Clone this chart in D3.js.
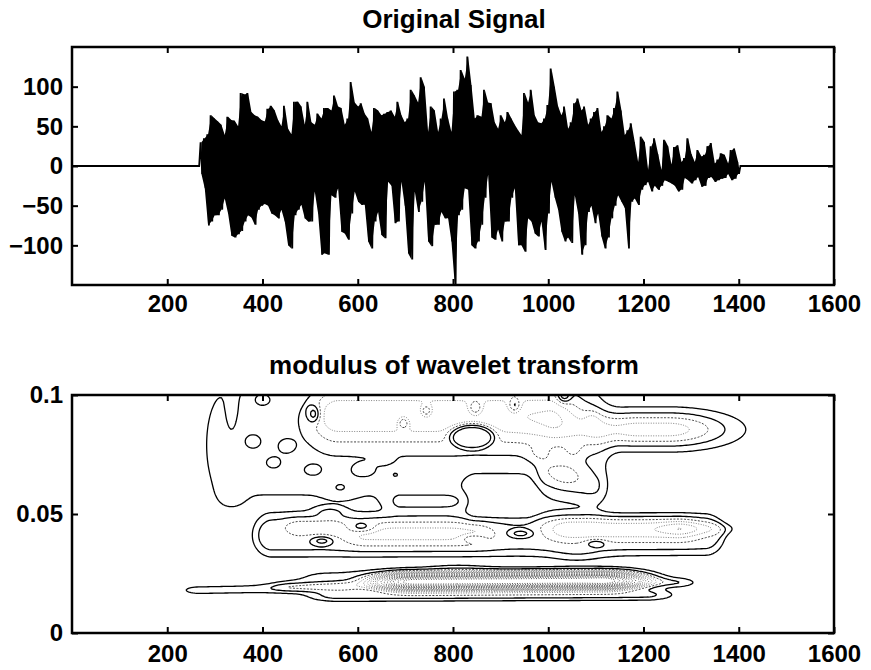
<!DOCTYPE html>
<html>
<head>
<meta charset="utf-8">
<script src="https://cdnjs.cloudflare.com/ajax/libs/d3/7.8.5/d3.min.js"></script>
<style>
  html, body { margin: 0; padding: 0; background: #fff; }
  svg { display: block; font-family: "Liberation Sans", Arial, Helvetica, sans-serif; font-weight: bold; }
</style>
</head>
<body>
<svg id="chart" width="871" height="670"></svg>
<script>
// ---------- signal: alternating upper / lower swing values, one pair per step ----------
const signalStart = 270;   // first sample of the burst
const signalStep = 7;      // samples between successive upper swings
const signalLength = 1600;

const peakHigh = [
  30, 35, 40, 64, 60, 56, 52, 39, 62, 58, 57, 50, 92, 90, 92, 68, 64, 62, 58, 56, 72, 76, 70, 58, 50, 76,
  47, 40, 81, 81, 75, 52, 81, 55, 52, 66, 60, 73, 73, 70, 89, 75, 73, 52, 60, 106, 80, 75, 79, 66, 60, 43, 73, 70,
  64, 66, 68, 70, 62, 81, 64, 55, 60, 96, 89, 80, 112, 100, 43, 75, 70, 43, 60, 85, 60, 43, 94, 96, 121, 110, 138, 102,
  60, 64, 62, 96, 80, 79, 55, 47, 64, 55, 68, 60, 52, 45, 39, 92, 80, 96, 64, 55, 54, 60, 77, 123, 100, 75, 64,
  75, 47, 55, 79, 85, 70, 75, 52, 60, 68, 73, 43, 50, 64, 60, 73, 94, 70, 39, 45, 54, 30, 5, 37, 30, -5, 25, 35,
  15, -5, 33, 25, 2, 24, 26, 5, 10, 35, 15, 5, 20, 12, 14, 25, 29, 3, 8, 16, 14, 3, 20, 22, 5
];
const peakLow = [
  -10, -28, -75, -70, -62, -62, -55, -41, -60, -88, -90, -86, -82, -70, -62, -65, -74, -55, -50, -48, -50, -60, -62, -66, -55, -70,
  -100, -104, -62, -55, -49, -66, -70, -70, -32, -60, -112, -110, -112, -37, -40, -28, -83, -85, -93, -60, -32, -45, -49, -49, -95, -104, -70, -58,
  -87, -91, -20, -25, -72, -70, -20, -50, -110, -118, -32, -58, -45, -20, -95, -101, -74, -74, -58, -66, -66, -95, -150, -62, -55, -28, -30, -100,
  -104, -95, -74, -40, -11, -90, -93, -80, -95, -70, -70, -40, -28, -100, -100, -108, -66, -70, -85, -89, -70, -106, -60, -20, -40, -55, -83,
  -95, -90, -97, -37, -60, -112, -100, -58, -50, -72, -60, -89, -104, -90, -66, -50, -37, -45, -53, -104, -45, -41, -49, -30, -24, -20, -32, -25,
  -30, -25, -18, -20, -22, -25, -32, -30, -15, -18, -22, -18, -14, -26, -25, -15, -14, -20, -18, -16, -15, -10, -18, -16, -10
];

// ---------- axes ----------
const timeTicks = [200, 400, 600, 800, 1000, 1200, 1400, 1600];
const signalTicks = [-100, -50, 0, 50, 100];
const scaleTicks = [0, 0.05, 0.1];
const contourLevels = [1, 2, 3, 4, 5, 6, 7, 8, 9, 10, 12, 14, 16, 18, 20, 23, 26];

// ---------- modulus surface: ridges [t0, t1, s0, s1, widthT, widthS, height, shape] ----------
const lowBand = [
  [270, 560, 0.0180, 0.0190, 35, 0.0016, 1.45],
  [460, 640, 0.0195, 0.0200, 30, 0.0014, 1.4],
  [540, 1150, 0.0230, 0.0235, 70, 0.0032, 1.25],
  [720, 1110, 0.0215, 0.0220, 50, 0.0021, 28],
  [560, 1200, 0.0155, 0.0160, 45, 0.0017, 2.3],
  [1130, 1270, 0.0215, 0.0212, 30, 0.0014, 1.7],
  [810, 810, 0.0270, 0.0270, 45, 0.0016, 0.7]
];
const midBand = [
  [420, 1330, 0.0405, 0.0412, 35, 0.0075, 2.3, 4],
  [480, 540, 0.0445, 0.0445, 25, 0.0030, 1.2],
  [620, 840, 0.0415, 0.0415, 35, 0.0035, 2.0],
  [1050, 1270, 0.0435, 0.0435, 40, 0.0035, 2.5],
  [1060, 1060, 0.0325, 0.0325, 40, 0.0025, 0.7],
  [1280, 1360, 0.0440, 0.0438, 30, 0.0020, 1.3]
];
const highBand = [
  [320, 1080, 0.0790, 0.0790, 40, 0.0225, 1.5, 3],
  [560, 1000, 0.0920, 0.0920, 45, 0.009, 3.5],
  [1190, 1250, 0.0855, 0.0855, 95, 0.0055, 4.5],
  [1000, 1100, 0.0670, 0.0610, 20, 0.005, 1.2],
  [690, 820, 0.0550, 0.0550, 22, 0.0033, 1.5],
  [335, 335, 0.0590, 0.0590, 18, 0.004, 0.9],
  [850, 950, 0.0560, 0.0560, 22, 0.007, -1.6],
  [335, 335, 0.0940, 0.0940, 9, 0.007, -1.0]
];
// isolated maxima / minima: [t, s, widthT, widthS, height, shape]
const spots = [
  [380, 0.0805, 15, 0.0026, 0.9], [450, 0.0785, 15, 0.0025, 0.9], [423, 0.0715, 14, 0.0022, 0.9],
  [505, 0.0683, 17, 0.0022, 0.9], [612, 0.0680, 22, 0.0025, 0.9], [563, 0.0607, 22, 0.0028, 0.9],
  [655, 0.0731, 14, 0.0018, 0.9], [400, 0.0985, 20, 0.0030, 1.2], [508, 0.0920, 9, 0.0025, -2.5],
  [696, 0.0883, 8, 0.0018, -2.5], [744, 0.0933, 8, 0.0018, -2.5], [980, 0.0753, 17, 0.0026, 0.9],
  [1054, 0.0765, 14, 0.0025, 0.9], [1093, 0.0895, 11, 0.0028, 0.9], [1038, 0.0670, 27, 0.0040, 0.9],
  [542, 0.0510, 22, 0.0016, 1.4], [840, 0.0830, 40, 0.0043, -4, 4], [847, 0.0945, 10, 0.0022, -2.5],
  [929, 0.0955, 9, 0.0022, -2.5], [1033, 0.0995, 10, 0.0020, -2.5], [679, 0.0664, 5, 0.0008, 0.8],
  [525, 0.0388, 16, 0.0013, -2.0], [609, 0.0443, 20, 0.0017, -2.0], [843, 0.0397, 18, 0.0012, -1.8],
  [942, 0.0418, 18, 0.0012, -1.8], [1100, 0.0377, 15, 0.0012, -1.6]
];

// ---------- layout ----------
const svg = d3.select("#chart");
const left = 72, right = 834;
const top1 = 47, bottom1 = 285;
const top2 = 395, bottom2 = 633;

const x = d3.scaleLinear().domain([0, 1600]).range([left, right]);
const ySig = d3.scaleLinear().domain([-150, 150]).range([bottom1, top1]);
const yScale = d3.scaleLinear().domain([0, 0.1]).range([bottom2, top2]);

const defs = svg.append("defs");
defs.append("clipPath").attr("id", "clipTop")
  .append("rect").attr("x", left).attr("y", top1).attr("width", right - left).attr("height", bottom1 - top1);
defs.append("clipPath").attr("id", "clipBottom")
  .append("rect").attr("x", left).attr("y", top2).attr("width", right - left).attr("height", bottom2 - top2);

// ---------- top panel: signal ----------
const swings = peakHigh.map((h, i) => ({ t: signalStart + i * signalStep, hi: h, lo: peakLow[i] }));
const pts = [[0, 0], [signalStart - 3, 0]];
swings.forEach(d => { pts.push([d.t, d.hi]); pts.push([d.t + signalStep / 2, d.lo]); });
const lastT = swings[swings.length - 1].t + signalStep / 2;
pts.push([lastT + 3, 0], [signalLength, 0]);

const sigLayer = svg.append("g").attr("clip-path", "url(#clipTop)");
// dense oscillation fills the band between successive swings
sigLayer.append("path")
  .attr("d", d3.area().x(d => x(d.t + signalStep / 4)).y0(d => ySig(d.lo)).y1(d => ySig(d.hi))(swings))
  .attr("fill", "#000");
sigLayer.append("path")
  .attr("d", d3.line().x(d => x(d[0])).y(d => ySig(d[1]))(pts))
  .attr("fill", "none")
  .attr("stroke", "#000")
  .attr("stroke-width", 1.8)
  .attr("stroke-linejoin", "miter")
  .attr("stroke-miterlimit", 2);

// ---------- bottom panel: contour of the modulus ----------
function ridge(r, t, s) {
  const [t0, t1, s0, s1, wt, ws, h, shape = 2] = r;
  const k = t1 > t0 ? Math.max(0, Math.min(1, (t - t0) / (t1 - t0))) : 0;
  const dt = t < t0 ? t0 - t : (t > t1 ? t - t1 : 0);
  const sc = s0 + (s1 - s0) * k;
  const q = (dt / wt) ** 2 + ((s - sc) / ws) ** 2;
  return h * Math.exp(-0.5 * Math.pow(q, shape / 2));
}
const ridges = lowBand.concat(midBand, highBand,
  spots.map(([t, s, wt, ws, h, shape]) => [t, t, s, s, wt, ws, h, shape || 2]));

const nx = 400, ny = 240;
const dt = 1600 / nx, ds = 0.1 / ny;
const grid = new Float64Array(nx * ny);
for (let j = 0; j < ny; j++) {
  const s = 0.1 - (j + 0.5) * ds;
  for (let i = 0; i < nx; i++) {
    const t = (i + 0.5) * dt;
    let v = 0;
    for (const r of ridges) v += ridge(r, t, s);
    grid[j * nx + i] = v;
  }
}
const contours = d3.contours().size([nx, ny]).thresholds(contourLevels)(grid);
const toPlot = d3.geoTransform({
  point(gx, gy) { this.stream.point(x(gx * dt), yScale(0.1 - gy * ds)); }
});
const geo = d3.geoPath(toPlot);

svg.append("g").attr("clip-path", "url(#clipBottom)")
  .selectAll("path").data(contours.slice().reverse()).join("path")
  .attr("d", geo)
  .attr("fill", "none")
  .attr("stroke", d => d.value <= 2 ? "#000" : (d.value === 3 ? "#444" : (d.value >= 12 ? "#555" : "#808080")))
  .attr("stroke-width", d => d.value <= 2 ? 1.3 : 1)
  .attr("stroke-dasharray", d => d.value <= 2 ? null : (d.value === 3 ? "2,1.5" : "1,1.5"));

// ---------- frames, ticks, labels ----------
function styleAxis(g) {
  g.select(".domain").remove();
  g.selectAll("line").attr("stroke", "#000").attr("stroke-width", 2);
  g.selectAll("text").attr("font-size", 24).attr("font-weight", "bold")
    .attr("font-family", "'Liberation Sans', Arial, sans-serif").attr("fill", "#000");
}
function panel(top, bottom, yS, yTicks, yFmt, title, titleBase, pad) {
  svg.append("g").attr("transform", `translate(0,${bottom})`)
    .call(d3.axisBottom(x).tickValues(timeTicks).tickSize(-6).tickPadding(pad).tickFormat(d3.format("d")))
    .call(styleAxis);
  svg.append("g").attr("transform", `translate(0,${top})`)
    .call(d3.axisTop(x).tickValues(timeTicks).tickSize(-6).tickFormat(""))
    .call(styleAxis);
  svg.append("g").attr("transform", `translate(${left},0)`)
    .call(d3.axisLeft(yS).tickValues(yTicks).tickSize(-6).tickPadding(9).tickFormat(yFmt))
    .call(styleAxis);
  svg.append("g").attr("transform", `translate(${right},0)`)
    .call(d3.axisRight(yS).tickValues(yTicks).tickSize(-6).tickFormat(""))
    .call(styleAxis);
  svg.append("rect")
    .attr("x", left).attr("y", top).attr("width", right - left).attr("height", bottom - top)
    .attr("fill", "none").attr("stroke", "#000").attr("stroke-width", 2.5);
  svg.append("text")
    .attr("x", (left + right) / 2 + 1).attr("y", titleBase)
    .attr("text-anchor", "middle").attr("font-size", 26).attr("fill", "#000")
    .text(title);
}
panel(top1, bottom1, ySig, signalTicks, d => d3.format("d")(d).replace("-", "\u2212"), "Original Signal", 28, 10);
panel(top2, bottom2, yScale, scaleTicks, d => d === 0 ? "0" : (d === 0.1 ? "0.1" : "0.05"), "modulus of wavelet transform", 374, 12);
</script>
</body>
</html>
